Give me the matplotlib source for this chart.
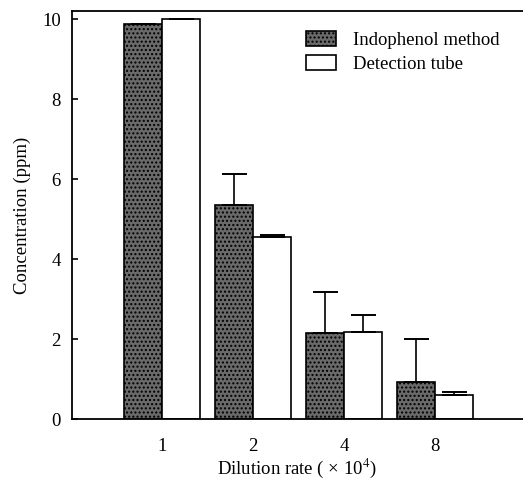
import numpy as np
import matplotlib.pyplot as plt

# Datos
dilution = ['1', '2', '4', '8']
indophenol = [9.87, 5.36, 2.14, 0.93]
indophenol_err = [0.0, 0.76, 1.04, 1.07]
tube = [10.0, 4.54, 2.18, 0.61]
tube_err = [0.0, 0.06, 0.42, 0.07]

plt.rcParams['font.family'] = ['Liberation Serif', 'DejaVu Serif']
plt.rcParams['font.size'] = 13.5
plt.rcParams['mathtext.fontset'] = 'stix'
plt.rcParams['hatch.color'] = '#8a8a8a'

fig = plt.figure(figsize=(5.23, 4.87), dpi=100)
ax = fig.add_axes([0.1377, 0.1396, 0.8623, 0.8378])

x = np.arange(len(dilution))
w = 0.42
ax.bar(x - w / 2, indophenol, w, color='#6a6a6a', edgecolor='black', linewidth=1.2,
       hatch='....', label='Indophenol method')
ax.bar(x + w / 2, tube, w, color='white', edgecolor='black', linewidth=1.2,
       label='Detection tube')

# Barras de error solo hacia arriba
ax.errorbar(x - w / 2, indophenol, yerr=[np.zeros(4), indophenol_err], fmt='none',
            ecolor='black', elinewidth=1.2, capsize=9, capthick=1.4)
ax.errorbar(x + w / 2, tube, yerr=[np.zeros(4), tube_err], fmt='none',
            ecolor='black', elinewidth=1.2, capsize=9, capthick=1.4)

ax.set_xlim(-0.99, 3.97)
ax.set_ylim(0, 10.2)
ax.set_yticks([0, 2, 4, 6, 8, 10])
ax.set_xticks(x)
ax.set_xticklabels(dilution)
ax.tick_params(axis='y', direction='in', length=4, width=1.2, pad=8)
ax.tick_params(axis='x', length=0, pad=14)
ax.spines['right'].set_visible(False)
for s in ['left', 'top', 'bottom']:
    ax.spines[s].set_linewidth(1.3)

ax.set_ylabel('Concentration (ppm)', labelpad=8)
ax.set_xlabel('Dilution rate ( × 10$^4$)', labelpad=1)

ax.legend(loc='upper right', bbox_to_anchor=(0.985, 0.993), frameon=False,
          handlelength=1.6, handleheight=0.9, handletextpad=0.9, labelspacing=0.3,
          borderaxespad=0.5)

fig.savefig('out.png', dpi=100)
